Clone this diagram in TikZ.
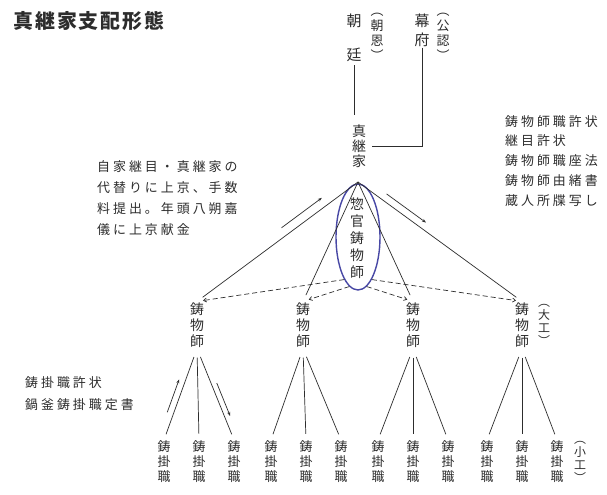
\documentclass[tikz,border=0pt]{standalone}
\usepackage{fontspec}
\usetikzlibrary{shapes.geometric,arrows.meta,calc}
\newfontfamily\jp{Noto Sans CJK JP}
\newfontfamily\jpt[LetterSpace=23]{Noto Sans CJK JP}
\newfontfamily\jpb[LetterSpace=10]{Noto Sans CJK JP}
\definecolor{ink}{RGB}{45,45,45}
\definecolor{ellblue}{RGB}{72,72,165}
\begin{document}
\begin{tikzpicture}[x=1bp,y=-1bp,
  every node/.style={text=ink, inner sep=1bp},
  vert/.style={align=center, font=\jp\fontsize{14}{16}\selectfont},
  block/.style={align=left, anchor=west},
  link/.style={draw=ink, line width=0.7bp},
  dashlink/.style={draw=ink, line width=0.7bp, dash pattern=on 5bp off 3bp, -{Straight Barb[length=3bp,width=4bp]}},
  flow/.style={draw=ink, line width=0.7bp, -{Stealth[length=4bp,width=3bp]}}
]
\useasboundingbox[fill=white] (0,0) rectangle (607,495);

% title
\node[anchor=west, font=\jpb\bfseries\fontsize{20}{20}\selectfont] (title) at (12,21) {真継家支配形態};

% top authorities
\node[vert, font=\jp\fontsize{15}{34}\selectfont] (chotei) at (354,38) {朝\\廷};
\node[vert, font=\jp\fontsize{13}{15}\selectfont] (choon) at (377,37) {︵\\朝\\恩\\︶};
\node[vert, font=\jp\fontsize{15}{19}\selectfont] (bakufu) at (422,30) {幕\\府};
\node[vert, font=\jp\fontsize{13}{15}\selectfont] (koonin) at (443,37) {︵\\公\\認\\︶};

% shinke
\node[vert, font=\jp\fontsize{14}{15}\selectfont] (shinke) at (359,146) {真\\継\\家};
\draw[link, shorten <=2bp, shorten >=8bp] (chotei.south) -- (chotei.south |- shinke.north);
\draw[link] (bakufu.south) |- ([xshift=5bp]shinke.east);

\coordinate (apex) at (358,182);

% ellipse with sokan imoji
\node[ellipse, draw=ellblue, line width=1.4bp, minimum width=44bp, minimum height=106bp, inner sep=0pt] (ell) at (358,237) {};
\node[vert, font=\jp\fontsize{14}{17}\selectfont] (kan) at (357,238) {惣\\官\\鋳\\物\\師};

% imoji nodes
\node[vert] (m1) at (197,325) {鋳\\物\\師};
\node[vert] (m2) at (303,325) {鋳\\物\\師};
\node[vert] (m3) at (413,325) {鋳\\物\\師};
\node[vert] (m4) at (522,325) {鋳\\物\\師};
\node[vert, font=\jp\fontsize{12}{13}\selectfont] (daiku) at (544,325) {︵\\大\\工\\︶};

\foreach \m in {m1,m2,m3,m4}
  \draw[link, shorten >=7bp] (apex) -- (\m.north);

\draw[dashlink, shorten >=6bp] (ell.-108) -- (m1.north);
\draw[dashlink, shorten >=6bp] (ell.-100) -- (m2.north);
\draw[dashlink, shorten >=6bp] (ell.-80) -- (m3.north);
\draw[dashlink, shorten >=6bp] (ell.-72) -- (m4.north);

% flow arrows near apex
\draw[flow] ($(apex)!0.45!(m1.north)+(-4,-8)$) -- ($(apex)!0.2!(m1.north)+(-4,-8)$);
\draw[flow] ($(apex)!0.15!(m4.north)+(4,-6)$) -- ($(apex)!0.39!(m4.north)+(4,-6)$);

% kakeshoku nodes
\foreach \g/\cx in {1/199,2/306,3/413,4/522}{
  \node[vert, font=\jp\fontsize{13}{15}\selectfont] (k\g1) at (\cx-35,462) {鋳\\掛\\職};
  \node[vert, font=\jp\fontsize{13}{15}\selectfont] (k\g2) at (\cx,462) {鋳\\掛\\職};
  \node[vert, font=\jp\fontsize{13}{15}\selectfont] (k\g3) at (\cx+35,462) {鋳\\掛\\職};
  \foreach \j in {1,2,3}
    \draw[link, shorten <=9bp, shorten >=6bp] (m\g.south) -- (k\g\j.north);
}
\node[vert, font=\jp\fontsize{12}{13}\selectfont] (shoku) at (580,462) {︵\\小\\工\\︶};

% flow arrows group 1
\draw[flow] ($(m1.south)!0.72!(k11.north)+(-6,-2)$) -- ($(m1.south)!0.36!(k11.north)+(-6,-2)$);
\draw[flow] ($(m1.south)!0.40!(k13.north)+(5,-2)$) -- ($(m1.south)!0.76!(k13.north)+(5,-2)$);

% notes
\node[block, font=\jpt\fontsize{13}{21}\selectfont] (note1) at (96,198) {自家継目・真継家の\\代替りに上京、手数\\料提出。年頭八朔嘉\\儀に上京献金};
\node[block, font=\jpt\fontsize{13}{20}\selectfont] (note2) at (504,161) {鋳物師職許状\\継目許状\\鋳物師職座法\\鋳物師由緒書\\蔵人所牒写し};
\node[block, font=\jpt\fontsize{13}{22}\selectfont] (note3) at (24,394) {鋳掛職許状\\鍋釜鋳掛職定書};
\end{tikzpicture}
\end{document}
